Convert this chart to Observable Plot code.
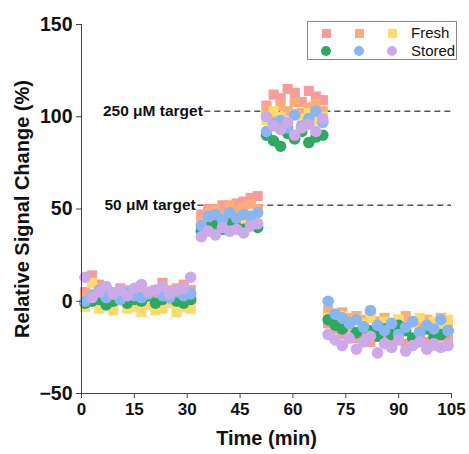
<!DOCTYPE html>
<html>
<head>
<meta charset="utf-8">
<script src="https://cdn.jsdelivr.net/npm/d3@7"></script>
<script src="https://cdn.jsdelivr.net/npm/@observablehq/plot@0.6"></script>
<style>
  body { margin: 0; background: #fff; }
  #wrap { position: relative; width: 469px; height: 454px; font-family: Arial, "Liberation Sans", sans-serif; }
  #legend { position: absolute; left: 307px; top: 21px; width: 148px; height: 37px; border: 1px solid #8a8a8a; background: #fff; }
  .lrow { position: absolute; left: 0; height: 18px; width: 148px; }
  .mk { position: absolute; }
  .lt { position: absolute; left: 103px; font-size: 15px; line-height: 18px; color: #111; }
</style>
</head>
<body>
<div id="wrap"></div>
<script>
// ---- data ----
const seriesNames = ["Fresh 1", "Fresh 2", "Fresh 3", "Stored 1", "Stored 2", "Stored 3"];
const seriesGroup = ["Fresh", "Fresh", "Fresh", "Stored", "Stored", "Stored"];
const seriesColors = ["#F79B9B", "#FBAC7A", "#FDD96E", "#2FA862", "#87B6F2", "#CCAAEA"];

const times = [
  1, 3, 5, 7, 9, 11, 13, 15, 17, 19, 21, 23, 25, 27, 29, 31,
  34, 36, 38, 40, 42, 44, 46, 48, 50,
  52.5, 54.5, 56.5, 58.5, 60.5, 62.5, 64.5, 66.5, 68.5,
  70, 72, 74, 76, 78, 80, 82, 84, 86, 88, 90, 92, 94, 96, 98, 100, 102, 104
];

const fresh1 = [
  5, 14, 9, 6, 4, 7, 3, 5, 8, 4, 6, 10, 5, 7, 9, 6,
  47, 50, 49, 52, 51, 53, 54, 56, 57,
  106, 112, 110, 115, 113, 108, 114, 111, 109,
  -12, -15, -18, -14, -20, -17, -22, -16, -19, -21, -18, -23, -20, -17, -22, -24, -19, -21
];
const fresh2 = [
  2, 4, 7, 1, 5, 3, 6, 2, 4, 0, 5, 3, 6, 2, 4, 3,
  44, 48, 50, 47, 52, 49, 51, 53, 50,
  104, 101, 106, 103, 108, 102, 105, 107, 103,
  -5, -7, -6, -9, -8, -10, -7, -11, -9, -12, -10, -8, -11, -13, -10, -12, -9, -11
];
const fresh3 = [
  -3, 10, -4, -2, -5, 0, -4, -3, -6, -2, -5, -4, -1, -6, -3, -4,
  40, 44, 46, 42, 45, 41, 43, 44, 42,
  98, 103, 100, 97, 101, 99, 102, 98, 100,
  -9, -11, -8, -13, -10, -12, -9, -14, -11, -13, -10, -15, -12, -9, -13, -11, -14, -10
];
const stored1 = [
  -1, 0, 1, -2, 0, 2, -1, 1, 0, 3, -1, 1, 2, 0, -1, 1,
  38, 40, 41, 39, 42, 40, 39, 41, 40,
  90, 87, 84, 91, 88, 92, 86, 89, 90,
  -10, -13, -15, -12, -17, -14, -16, -19, -15, -18, -13, -16, -20, -17, -15, -19, -18, -16
];
const stored2 = [
  0, 3, 6, 2, 4, 1, 5, 3, 2, 4, 6, 3, 2, 5, 3, 4,
  41, 46, 47, 44, 48, 45, 47, 46, 48,
  92, 96, 98, 94, 101, 95, 99, 103, 97,
  0, -7, -9, -12, -10, -14, -5, -13, -16, -12, -18, -14, -11, -17, -13, -15, -10, -16
];
const stored3 = [
  13, 2, 5, 8, 4, 6, 3, 7, 9, 5, 6, 8, 4, 6, 7, 13,
  35, 38, 36, 40, 38, 39, 37, 41, 42,
  100, 95, 93, 97, 90, 94, 96, 92, 99,
  -18, -21, -24, -20, -26, -22, -19, -28, -23, -25, -21, -27, -24, -22, -26, -23, -25, -24
];
const seriesValues = [fresh1, fresh2, fresh3, stored1, stored2, stored3];

const targetLabels = ["250 μM target", "50 μM target"];
const targetValues = [103, 52];
const targetStarts = [35, 33];

const xTicks = [0, 15, 30, 45, 60, 75, 90, 105];
const yTicks = [-50, 0, 50, 100, 150];

// ---- tables ----
const rows = [];
seriesValues.forEach((vals, si) => {
  vals.forEach((v, i) => rows.push({t: times[i], v, series: seriesNames[si], group: seriesGroup[si]}));
});
const targets = targetLabels.map((label, i) => ({label, value: targetValues[i], start: targetStarts[i]}));
const xMax = xTicks[xTicks.length - 1];
const yMin = yTicks[0];

const font = 'Arial, "Liberation Sans", sans-serif';

const chart = Plot.plot({
  width: 469,
  height: 454,
  marginLeft: 81,
  marginRight: 18,
  marginTop: 24,
  marginBottom: 61,
  style: {fontFamily: font, background: "#fff", overflow: "visible"},
  x: {domain: [xTicks[0], xMax]},
  y: {domain: [yMin, yTicks[yTicks.length - 1]]},
  color: {domain: seriesNames, range: seriesColors},
  marks: [
    Plot.ruleY(targets, {y: "value", x1: "start", x2: () => xMax, stroke: "#555", strokeWidth: 1.5, strokeDasharray: "6,4"}),
    Plot.text(targets, {x: "start", y: "value", text: "label", textAnchor: "end", dx: -2, fontSize: 15.5, fontWeight: "bold", fill: "#111"}),
    Plot.dot(rows.filter(d => d.group === "Fresh"), {x: "t", y: "v", fill: "series", symbol: "square", r: 5.7}),
    Plot.dot(rows.filter(d => d.group === "Stored"), {x: "t", y: "v", fill: "series", symbol: "circle", r: 5.8}),
    Plot.axisX({ticks: xTicks, tickSize: 5, tickPadding: 4, fontSize: 17, fontWeight: "bold", label: null, stroke: "#444", fill: "#111"}),
    Plot.axisY({ticks: yTicks, tickSize: 5, tickPadding: 4, fontSize: 19.5, fontWeight: "bold", label: null, stroke: "#444", fill: "#111"}),
    Plot.ruleX([xTicks[0]], {stroke: "#444"}),
    Plot.ruleY([yMin], {stroke: "#444"}),
    Plot.text(["Time (min)"], {frameAnchor: "bottom", dy: 51, fontSize: 20, fontWeight: "bold", fill: "#111"}),
    Plot.text(["Relative Signal Change (%)"], {frameAnchor: "left", textAnchor: "middle", dx: -59, rotate: -90, fontSize: 20, fontWeight: "bold", fill: "#111"})
  ]
});

const wrap = document.getElementById("wrap");
wrap.appendChild(chart);

// ---- legend ----
const legend = document.createElement("div");
legend.id = "legend";
const legendRows = [["Fresh", 0, 1, 2], ["Stored", 3, 4, 5]];
const markerX = [18, 51, 84];
legendRows.forEach(([label, ...idx], r) => {
  const row = document.createElement("div");
  row.className = "lrow";
  row.style.top = (2 + r * 18) + "px";
  idx.forEach((si, k) => {
    const m = document.createElement("div");
    m.className = "mk";
    const sz = seriesGroup[si] === "Fresh" ? 9 : 10;
    m.style.width = sz + "px";
    m.style.height = sz + "px";
    m.style.left = (markerX[k] - sz / 2) + "px";
    m.style.top = (9 - sz / 2) + "px";
    m.style.background = seriesColors[si];
    if (seriesGroup[si] === "Stored") m.style.borderRadius = "50%";
    row.appendChild(m);
  });
  const t = document.createElement("div");
  t.className = "lt";
  t.textContent = label;
  row.appendChild(t);
  legend.appendChild(row);
});
wrap.appendChild(legend);
</script>
</body>
</html>
